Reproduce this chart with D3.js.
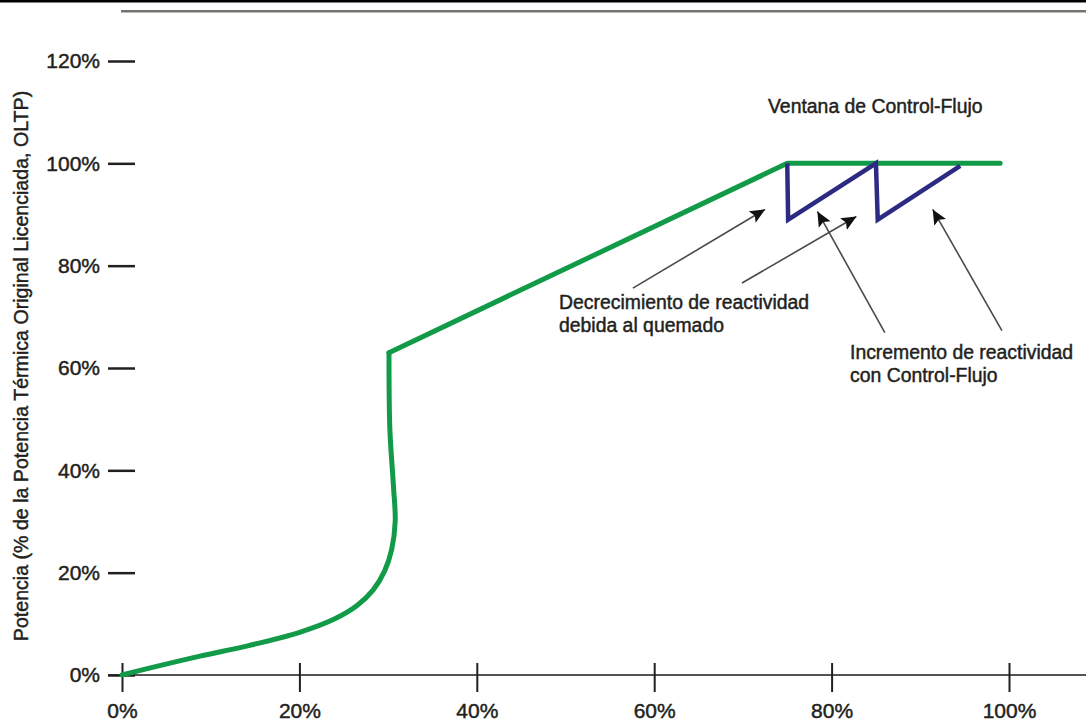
<!DOCTYPE html>
<html><head><meta charset="utf-8">
<script src="https://cdn.jsdelivr.net/npm/d3@7"></script>
<style>
html,body{margin:0;padding:0;background:#fff;}
svg text{font-family:"Liberation Sans",Arial,Helvetica,sans-serif;fill:#231f20;stroke:#231f20;stroke-width:0.45px;}
</style></head>
<body>
<svg id="chart" width="1086" height="721"></svg>
<script>
// ---- data ----
const xTicks = [0, 20, 40, 60, 80, 100];
const yTicks = [0, 20, 40, 60, 80, 100, 120];
// green power curve, lower (curved) part: [x %, y %]
const greenCurveX = [0, 3.2, 8.8, 14.4, 20.1, 24.0, 26.5, 28.3, 29.6, 30.4, 30.8, 30.6, 30.2, 30.1];
const greenCurveY = [0, 1.4, 3.7, 5.8, 8.4, 11.0, 13.6, 16.6, 20.3, 24.5, 30.0, 37.0, 48.0, 63.0];
// green straight part
const greenLineX = [30.1, 75.0, 99.0];
const greenLineY = [63.0, 100, 100];
// blue sawtooth (Control-Flujo)
const blueX = [75.0, 75.1, 85.0, 85.2, 94.5];
const blueY = [100, 89.0, 100, 89.0, 99.5];
// annotation texts
const titleText = "Ventana de Control-Flujo";
const decLines = ["Decrecimiento de reactividad", "debida al quemado"];
const incLines = ["Incremento de reactividad", "con Control-Flujo"];
const yTitle = "Potencia (% de la Potencia Térmica Original Licenciada, OLTP)";
// arrows: [tailX%, tailY%, headX%, headY%]
const arrows = [
  [57.6, 75.6, 72.5, 91.0],
  [69.9, 76.6, 82.8, 89.6],
  [86.0, 66.9, 78.4, 90.6],
  [99.2, 67.3, 91.4, 91.0]
];

// ---- drawing ----
const W = 1086, H = 721;
const svg = d3.select("#chart");
const x = d3.scaleLinear().domain([0, 100]).range([122, 1009]);
const y = d3.scaleLinear().domain([0, 120]).range([675, 61]);

// top rules
svg.append("rect").attr("x", 0).attr("y", 0).attr("width", W).attr("height", 2.5).attr("fill", "#000");
svg.append("rect").attr("x", 121).attr("y", 10).attr("width", W - 121).attr("height", 2.5).attr("fill", "#777470");

svg.append("defs").append("marker")
  .attr("id", "ah").attr("viewBox", "0 0 10 10").attr("refX", 10).attr("refY", 5)
  .attr("markerWidth", 15).attr("markerHeight", 15).attr("markerUnits", "userSpaceOnUse")
  .attr("orient", "auto")
  .append("path").attr("d", "M0,0.5 L10,5 L0,9.5 L2,5 Z").attr("fill", "#111");

// x axis baseline
svg.append("line").attr("x1", 108).attr("x2", W).attr("y1", y(0)).attr("y2", y(0))
  .attr("stroke", "#555250").attr("stroke-width", 2);

// x axis
const gx = svg.append("g").attr("transform", `translate(0,${y(0)})`)
  .call(d3.axisBottom(x).tickValues(xTicks).tickFormat(d => d + "%").tickSize(17).tickPadding(11));
gx.select(".domain").remove();
gx.selectAll(".tick line").attr("y1", -12).attr("y2", 17).attr("stroke", "#231f20").attr("stroke-width", 2);
gx.selectAll(".tick text").attr("font-size", 21).attr("fill", "#231f20").attr("font-family", null);

// y axis
const gy = svg.append("g").attr("transform", `translate(135,0)`)
  .call(d3.axisLeft(y).tickValues(yTicks).tickFormat(d => d + "%").tickSize(27).tickPadding(8));
gy.select(".domain").remove();
gy.selectAll(".tick line").attr("stroke", "#231f20").attr("stroke-width", 2.5);
gy.selectAll(".tick text").attr("font-size", 21).attr("fill", "#231f20").attr("font-family", null);

// y title
svg.append("text")
  .attr("transform", `translate(28,${366}) rotate(-90)`)
  .attr("text-anchor", "middle").attr("font-size", 19.6).text(yTitle);

// green curve
const curvePts = greenCurveX.map((v, i) => [v, greenCurveY[i]]);
const linePts = greenLineX.map((v, i) => [v, greenLineY[i]]);
svg.append("path")
  .attr("d", d3.line().x(d => x(d[0])).y(d => y(d[1])).curve(d3.curveCatmullRom.alpha(0.5))(curvePts))
  .attr("fill", "none").attr("stroke", "#119a48").attr("stroke-width", 5).attr("stroke-linecap", "round");
svg.append("path")
  .attr("d", d3.line().x(d => x(d[0])).y(d => y(d[1]))(linePts))
  .attr("fill", "none").attr("stroke", "#119a48").attr("stroke-width", 5)
  .attr("stroke-linejoin", "round").attr("stroke-linecap", "round");

// blue sawtooth
const bluePts = blueX.map((v, i) => [v, blueY[i]]);
svg.append("path")
  .attr("d", d3.line().x(d => x(d[0])).y(d => y(d[1]))(bluePts))
  .attr("fill", "none").attr("stroke", "#2d2a84").attr("stroke-width", 4.5)
  .attr("stroke-linejoin", "miter");

// arrows
svg.selectAll(".arr").data(arrows).join("line").attr("class", "arr")
  .attr("x1", d => x(d[0])).attr("y1", d => y(d[1]))
  .attr("x2", d => x(d[2])).attr("y2", d => y(d[3]))
  .attr("stroke", "#4a4a4a").attr("stroke-width", 1.6)
  .attr("marker-end", "url(#ah)");

// annotations
svg.append("text").attr("x", 768).attr("y", 113).attr("font-size", 19.4).text(titleText);
svg.append("g").selectAll("text").data(decLines).join("text")
  .attr("x", 559).attr("y", (d, i) => 309 + i * 23).attr("font-size", 19.4).text(d => d);
svg.append("g").selectAll("text").data(incLines).join("text")
  .attr("x", 850).attr("y", (d, i) => 359 + i * 23).attr("font-size", 19.4).text(d => d);
</script>
</body></html>
